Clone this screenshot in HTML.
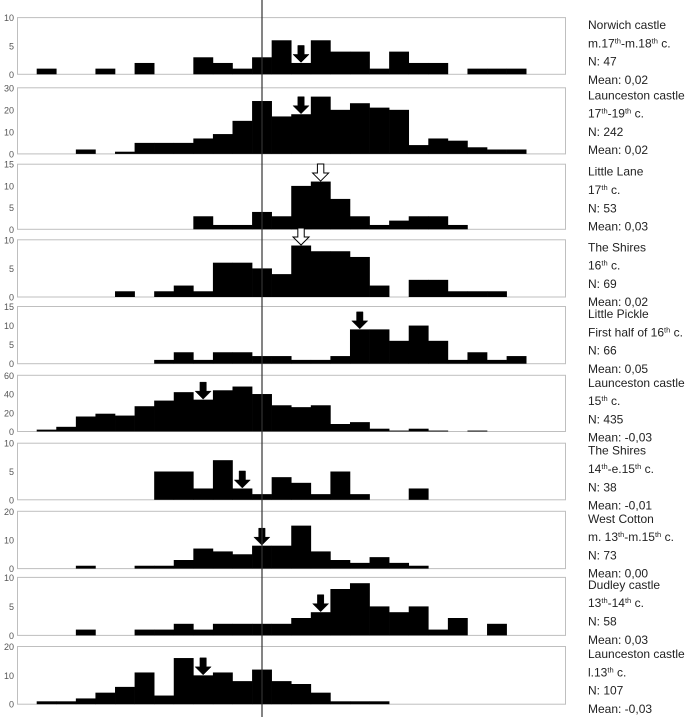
<!DOCTYPE html>
<html><head><meta charset="utf-8">
<style>
html,body{margin:0;padding:0;background:#fff;}
svg{display:block;font-family:"Liberation Sans",sans-serif;}
</style></head>
<body>
<svg id="chart" width="685" height="717" viewBox="0 0 685 717"></svg>
<script>
const p1Values=[1,0,0,1,0,2,0,0,3,2,1,3,6,2,6,4,4,1,4,2,2,0,1,1,1];
const p2Values=[0,0,2,0,1,5,5,5,7,9,15,24,17,18,26,20,23,21,20,4,7,6,3,2,2];
const p3Values=[0,0,0,0,0,0,0,0,3,1,1,4,3,10,11,7,3,1,2,3,3,1];
const p4Values=[0,0,0,0,1,0,1,2,1,6,6,5,4,9,8,8,7,2,0,3,3,1,1,1];
const p5Values=[0,0,0,0,0,0,1,3,1,3,3,2,2,1,1,2,9,9,6,10,6,1,3,1,2];
const p6Values=[2,5,16,19,17,27,33,42,34,44,48,40,28,26,28,8,10,3,1,3,1,0,1];
const p7Values=[0,0,0,0,0,0,5,5,2,7,2,1,4,3,1,5,1,0,0,2];
const p8Values=[0,0,1,0,0,1,1,3,7,6,5,8,8,15,6,3,2,4,2,1];
const p9Values=[0,0,1,0,0,1,1,2,1,2,2,2,2,3,4,8,9,5,4,5,1,3,0,2];
const p10Values=[1,1,2,4,6,11,3,16,10,11,8,12,8,7,4,1,1,1];
const axisMax=[10,30,15,10,15,60,10,20,10,20];
const tickStep=[5,10,5,5,5,20,5,10,5,10];
const arrowBin=[13,13,14,13,16,8,10,11,14,8];
const arrowHollow=[false,false,true,true,false,false,false,false,false,false];
const siteNames=["Norwich castle","Launceston castle","Little Lane","The Shires","Little Pickle","Launceston castle","The Shires","West Cotton","Dudley castle","Launceston castle"];
const periods=[["m.17","th","-m.18","th"," c."],["17","th","-19","th"," c."],["17","th"," c."],["16","th"," c."],["First half of 16","th"," c."],["15","th"," c."],["14","th","-e.15","th"," c."],["m. 13","th","-m.15","th"," c."],["13","th","-14","th"," c."],["l.13","th"," c."]];
const counts=["N: 47","N: 242","N: 53","N: 69","N: 66","N: 435","N: 38","N: 73","N: 58","N: 107"];
const means=["Mean: 0,02","Mean: 0,02","Mean: 0,03","Mean: 0,02","Mean: 0,05","Mean: -0,03","Mean: -0,01","Mean: 0,00","Mean: 0,03","Mean: -0,03"];
const allValues=[p1Values,p2Values,p3Values,p4Values,p5Values,p6Values,p7Values,p8Values,p9Values,p10Values];

const tops=[17.6,87.8,164.2,239.8,306.5,375.3,443.2,511.3,577.4,646.5];
const bases=[74.3,153.9,229.3,297,363.7,431.5,499.8,568.6,635.4,704.2];
const NS="http://www.w3.org/2000/svg";
const svg=document.getElementById('chart');
const boxL=17.5,boxR=565.5,bin0=36.7,binW=19.58;
function mk(tag,attrs,parent){const e=document.createElementNS(NS,tag);for(const k in attrs)e.setAttribute(k,attrs[k]);(parent||svg).appendChild(e);return e;}
function xScale(i){return bin0+i*binW;}

allValues.forEach((vals,p)=>{
  const top=tops[p],base=bases[p],mx=axisMax[p];
  const yScale=v=>base-(v/mx)*(base-top);
  const g=mk('g',{});
  
  
  const box=mk('rect',{x:boxL,y:top,width:boxR-boxL,height:base-top,fill:'none',stroke:'#bfbfbf','stroke-width':1},g);
  
  
  for(let t=0;t<=mx;t+=tickStep[p]){
    const y=yScale(t);
    const tl=mk('text',{x:14,y:y+3.5,'font-size':9,fill:'#555','text-anchor':'end'},g);
    
    
    tl.textContent=t;
  }
  vals.forEach((v,i)=>{
    if(v<=0)return;
    const r=mk('rect',{x:xScale(i),y:yScale(v),width:binW+0.3,height:base-yScale(v),fill:'#000'},g);
    
    
  });
  const b=arrowBin[p];const cx=xScale(b)+binW/2;const tip=yScale(vals[b]||0)-0.5;
  const h=17,hw=8,sw=3.2,hh=8;
  const pts=[[cx,tip],[cx-hw,tip-hh],[cx-sw,tip-hh],[cx-sw,tip-h],[cx+sw,tip-h],[cx+sw,tip-hh],[cx+hw,tip-hh]].map(q=>q.join(',')).join(' ');
  const a=mk('polygon',{points:pts,fill:arrowHollow[p]?'#fff':'#000',stroke:'#000','stroke-width':arrowHollow[p]?1:0.5},g);
  
  
  const tx=588,ty=top+11.5,lh=18.3;
  const lab=mk('text',{x:tx,y:ty,'font-size':12,fill:'#222'},g);
  
  
  lab.textContent=siteNames[p];
  const per=mk('text',{x:tx,y:ty+lh,'font-size':12,fill:'#222'},g);
  
  
  periods[p].forEach(s=>{
    const ts=mk('tspan',{},per);
    if(s==='th'){ts.setAttribute('font-size','7.5');ts.setAttribute('dy','-4');}
    else if(per.childNodes.length>1 && per.childNodes[per.childNodes.length-2].textContent==='th'){ts.setAttribute('dy','4');}
    ts.textContent=s;
  });
  const n=mk('text',{x:tx,y:ty+2*lh,'font-size':12,fill:'#222'},g);
  
  
  n.textContent=counts[p];
  const m=mk('text',{x:tx,y:ty+3*lh,'font-size':12,fill:'#222'},g);
  
  
  m.textContent=means[p];
});
const zl=mk('line',{x1:262,x2:262,y1:0,y2:717,stroke:'#333','stroke-width':1.2});


</script>
</body></html>
